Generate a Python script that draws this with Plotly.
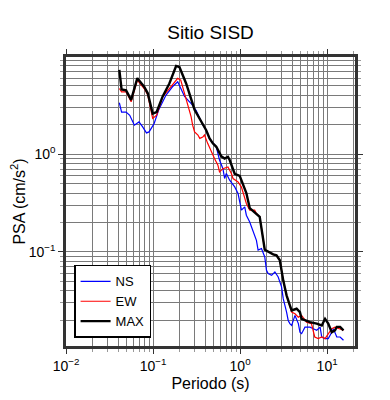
import plotly.graph_objects as go

# ---- data ----
ns_period = [0.041, 0.0435, 0.049, 0.054, 0.061, 0.069, 0.076, 0.084, 0.090, 0.103,
             0.116, 0.141, 0.167, 0.192, 0.230, 0.274, 0.313, 0.373, 0.408, 0.446,
             0.486, 0.533, 0.58, 0.635, 0.664, 0.695, 0.759, 0.867, 0.947, 1.036,
             1.13, 1.18, 1.29, 1.41, 1.54, 1.61, 1.76, 1.92, 2.01, 2.10, 2.30, 2.51,
             2.74, 3.0, 3.13, 3.42, 3.57, 3.73, 3.91, 4.27, 4.67, 4.87, 5.09, 5.56,
             6.35, 6.93, 7.59, 8.3, 8.67, 9.46, 10.3, 11.3, 11.8, 12.9, 14.1, 15.4]
ns_psa = [3.36, 2.7, 2.7, 2.5, 1.98, 2.14, 1.9, 1.65, 1.69, 2.06,
          2.83, 4.03, 4.9, 5.5, 3.9, 3.3, 2.8, 2.0, 1.76, 1.45,
          1.3, 1.19, 0.87, 0.71, 0.563, 0.634, 0.541, 0.462, 0.395, 0.267,
          0.288, 0.237, 0.202, 0.166, 0.131, 0.104, 0.108, 0.0885, 0.0646, 0.0598, 0.0574, 0.0621,
          0.0552, 0.0435, 0.0331, 0.0241, 0.0198, 0.0184, 0.0176, 0.0223, 0.0184, 0.015, 0.0145, 0.0169,
          0.0169, 0.0163, 0.0157, 0.0169, 0.0134, 0.0129, 0.0129, 0.015, 0.0163, 0.0134, 0.0134, 0.0124]

ew_period = [0.041, 0.0435, 0.049, 0.056, 0.066, 0.079, 0.087, 0.099, 0.110, 0.129,
             0.154, 0.192, 0.208, 0.240, 0.274, 0.285, 0.30, 0.328, 0.344, 0.373,
             0.39, 0.424, 0.465, 0.508, 0.556, 0.58, 0.635, 0.725, 0.794, 0.83,
             0.947, 1.036, 1.18, 1.29, 1.47, 1.54, 1.68, 1.92, 2.4, 2.62, 2.86,
             3.13, 3.42, 3.73, 3.91, 4.27, 4.67, 5.09, 5.8, 6.6, 7.2, 7.9, 8.67,
             9.46, 10.3, 11.3, 12.3, 14.1, 15.4]
ew_psa = [4.7, 4.35, 4.35, 3.44, 5.74, 4.7, 4.03, 2.32, 2.51, 3.87,
          4.7, 5.97, 5.74, 3.73, 2.41, 1.98, 1.69, 1.57, 1.45, 1.50,
          1.57, 1.29, 1.06, 0.90, 0.77, 0.658, 0.71, 0.74, 0.634, 0.563,
          0.52, 0.46, 0.312, 0.267, 0.267, 0.247, 0.228, 0.105, 0.094, 0.092, 0.0818,
          0.051, 0.0358, 0.0283, 0.0241, 0.0232, 0.0214, 0.0223, 0.019, 0.0184, 0.0134, 0.0129, 0.0134,
          0.0129, 0.0145, 0.0163, 0.0169, 0.0163, 0.0157]

max_period = [0.041, 0.0435, 0.049, 0.056, 0.066, 0.079, 0.087, 0.099, 0.110, 0.129,
              0.154, 0.184, 0.201, 0.240, 0.30, 0.373, 0.408, 0.446, 0.486, 0.533,
              0.608, 0.664, 0.725, 0.759, 0.83, 0.867, 0.99, 1.08, 1.18, 1.29,
              1.54, 1.68, 1.92, 2.4, 2.62, 2.86, 3.13, 3.42, 3.73, 3.91, 4.46,
              4.87, 5.09, 6.35, 7.59, 8.67, 9.46, 10.3, 11.3, 12.3, 12.9, 14.1, 15.4]
max_psa = [7.3, 4.6, 4.5, 3.6, 6.0, 4.9, 4.2, 2.6, 2.7, 3.9,
           5.3, 8.0, 7.8, 5.3, 2.85, 1.98, 1.76, 1.45, 1.29, 1.19,
           0.95, 0.90, 0.94, 0.87, 0.71, 0.63, 0.60, 0.49, 0.40, 0.28,
           0.247, 0.228, 0.105, 0.094, 0.092, 0.0818, 0.051, 0.0358, 0.0283, 0.0251, 0.0261,
           0.0241, 0.0206, 0.019, 0.0184, 0.0176, 0.0206, 0.0184, 0.015, 0.0157, 0.017, 0.017, 0.0157]

x_tickvals = [0.01, 0.1, 1, 10]
x_ticktext = ["10<sup>\u22122</sup>", "10<sup>\u22121</sup>", "10<sup>0</sup>", "10<sup>1</sup>"]
y_tickvals = [0.1, 1]
y_ticktext = ["10<sup>\u22121</sup>", "10<sup>0</sup>"]

minor_vals = [m * 10.0 ** e for e in range(-3, 3) for m in range(2, 10)]

font = "Liberation Sans, Arial, Helvetica, sans-serif"
grid_col = "#7a7a7a"
frame_col = "#333333"

fig = go.Figure()
fig.add_trace(go.Scatter(x=ns_period, y=ns_psa, mode="lines", name="NS",
                         line=dict(color="#0000ff", width=1.2)))
fig.add_trace(go.Scatter(x=ew_period, y=ew_psa, mode="lines", name="EW",
                         line=dict(color="#ff0000", width=1.2)))
fig.add_trace(go.Scatter(x=max_period, y=max_psa, mode="lines", name="MAX",
                         line=dict(color="#000000", width=2.4)))

axis_common = dict(
    type="log", automargin=False, showline=True, linewidth=2.5, linecolor=frame_col, mirror="ticks",
    ticks="outside", ticklen=5, tickwidth=1, tickcolor=frame_col,
    showgrid=True, gridcolor=grid_col, gridwidth=1, zeroline=False,
    tickfont=dict(size=14, color="#000", family=font),
    minor=dict(tickmode="array", tickvals=minor_vals, ticks="outside", ticklen=3,
               tickcolor="#999", showgrid=True, gridcolor=grid_col, gridwidth=1),
)

fig.update_xaxes(**axis_common, range=[-2, 1.32], tickmode="array",
                 tickvals=x_tickvals, ticktext=x_ticktext,
                 title=dict(text="Periodo (s)", font=dict(size=16, color="#000", family=font), standoff=6))
fig.update_yaxes(**axis_common, range=[-1.965, 0.995], tickmode="array",
                 tickvals=y_tickvals, ticktext=y_ticktext,
                 title=dict(text="PSA (cm/s<sup>2</sup>)", font=dict(size=16, color="#000", family=font), standoff=6))

fig.update_layout(
    width=382, height=392,
    margin=dict(l=58, r=35, t=49, b=54, autoexpand=False),
    paper_bgcolor="white", plot_bgcolor="white",
    title=dict(text="Sitio SISD", x=0.5, xanchor="center", xref="paper", y=0.939, yref="container",
               yanchor="middle", font=dict(size=19, color="#000", family=font)),
    showlegend=True,
    legend=dict(x=0.028, y=0.028, xanchor="left", yanchor="bottom",
                bgcolor="white", bordercolor="#000", borderwidth=1.5,
                font=dict(size=13, color="#000", family=font),
                itemwidth=30, tracegroupgap=4),
    font=dict(family=font),
)

fig.write_html("out.html")
